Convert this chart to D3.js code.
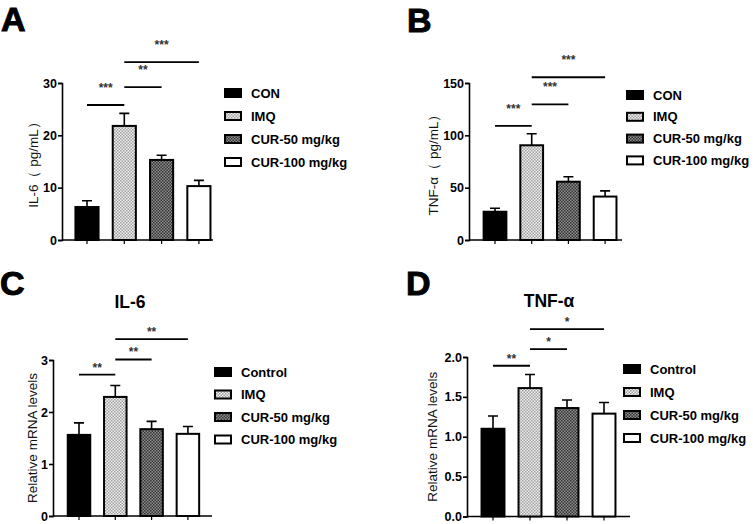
<!DOCTYPE html>
<html>
<head>
<meta charset="utf-8">
<script src="https://cdn.jsdelivr.net/npm/d3@7"></script>
<style>
  body { margin: 0; background: #fff; }
  svg { font-family: "Liberation Sans", Arial, sans-serif; }
</style>
</head>
<body>
<div id="chart"></div>
<script>
// data
const groupsAB = ["CON", "IMQ", "CUR-50 mg/kg", "CUR-100 mg/kg"];
const groupsCD = ["Control", "IMQ", "CUR-50 mg/kg", "CUR-100 mg/kg"];

const il6Protein = [6.3, 21.8, 15.3, 10.3];
const il6ProteinErr = [1.2, 2.4, 0.9, 1.1];
const tnfProtein = [27, 90.5, 55.7, 41.5];
const tnfProteinErr = [3.3, 11, 4.8, 5.4];
const il6Mrna = [1.56, 2.29, 1.67, 1.58];
const il6MrnaErr = [0.23, 0.22, 0.15, 0.14];
const tnfMrna = [1.10, 1.61, 1.36, 1.29];
const tnfMrnaErr = [0.16, 0.17, 0.10, 0.14];

// significance: [from bar, to bar, height (data units), label]
const sigA = [[0, 1, 25.8, "***"], [1, 2, 29.2, "**"], [1, 3, 34.0, "***"]];
const sigB = [[0, 1, 109, "***"], [1, 2, 129.5, "***"], [1, 3, 155.5, "***"]];
const sigC = [[0, 1, 2.72, "**"], [1, 2, 3.01, "**"], [1, 3, 3.40, "**"]];
const sigD = [[0, 1, 1.89, "**"], [1, 2, 2.10, "*"], [1, 3, 2.35, "*"]];

const ticksA = [0, 10, 20, 30];
const ticksB = [0, 50, 100, 150];
const ticksC = [0, 1, 2, 3];
const ticksD = [0, 0.5, 1.0, 1.5, 2.0];

const width = 753;
const height = 524;

const svg = d3.select("#chart").append("svg")
    .attr("width", width)
    .attr("height", height);

// checker patterns for IMQ / CUR-50
const defs = svg.append("defs");
function checker(id, c1, c2) {
    const p = defs.append("pattern")
        .attr("id", id)
        .attr("width", 3).attr("height", 3)
        .attr("patternUnits", "userSpaceOnUse");
    p.append("rect").attr("width", 3).attr("height", 3).attr("fill", c1);
    p.append("rect").attr("width", 1.5).attr("height", 1.5).attr("fill", c2);
    p.append("rect").attr("x", 1.5).attr("y", 1.5).attr("width", 1.5).attr("height", 1.5).attr("fill", c2);
}
checker("patLight", "#f0f0f0", "#a0a0a0");
checker("patDark", "#8e8e8e", "#333");
const fills = ["#000", "url(#patLight)", "url(#patDark)", "#fff"];

function drawPanel(p) {
    const g = svg.append("g");

    // bands centred on the tick positions: first centre c0, spacing step
    const x = d3.scaleBand()
        .domain(d3.range(p.values.length))
        .range([p.c0 - p.step / 2, p.c0 - p.step / 2 + p.step * p.values.length])
        .paddingInner(0.38)
        .paddingOuter(0.19);

    const y = d3.scaleLinear()
        .domain([0, p.ticks[p.ticks.length - 1]])
        .range([p.y0, p.y1]);

    // axes
    const yAxis = g.append("g")
        .attr("transform", `translate(${p.x0},0)`)
        .call(d3.axisLeft(y).tickValues(p.ticks).tickSize(4).tickFormat(p.fmt));
    yAxis.select(".domain").attr("stroke-width", 1.6);
    yAxis.selectAll(".tick line").attr("stroke-width", 1.6);
    yAxis.selectAll("text")
        .attr("font-size", 12.5)
        .attr("font-weight", "bold")
        .attr("fill", "#000")
        .attr("x", -5);

    const xAxis = g.append("g")
        .attr("transform", `translate(0,${p.y0})`)
        .call(d3.axisBottom(x).tickSize(4).tickFormat(""));
    xAxis.select(".domain").attr("d", `M${p.x0},0H${p.axisEnd}`).attr("stroke-width", 1.6);
    xAxis.selectAll(".tick line").attr("stroke-width", 1.2);

    // error bars
    g.selectAll(".err")
        .data(p.values)
        .enter()
        .append("path")
        .attr("fill", "none")
        .attr("stroke", "#000")
        .attr("stroke-width", 1.6)
        .attr("d", function (d, i) {
            const cx = x(i) + x.bandwidth() / 2;
            const top = y(d + p.err[i]);
            return `M${cx},${y(d)}V${top}M${cx - 5},${top}H${cx + 5}`;
        });

    // bars
    g.selectAll(".bar")
        .data(p.values)
        .enter()
        .append("rect")
        .attr("x", function (d, i) { return x(i); })
        .attr("y", function (d) { return y(d); })
        .attr("width", x.bandwidth())
        .attr("height", function (d) { return p.y0 - y(d); })
        .attr("fill", function (d, i) { return fills[i]; })
        .attr("stroke", "#000")
        .attr("stroke-width", 2);

    // significance lines
    p.sig.forEach(function (s) {
        const xa = x(s[0]) + x.bandwidth() / 2;
        const xb = x(s[1]) + x.bandwidth() / 2;
        const yy = y(s[2]);
        g.append("line")
            .attr("x1", xa).attr("x2", xb)
            .attr("y1", yy).attr("y2", yy)
            .attr("stroke", "#000")
            .attr("stroke-width", 1.8);
        g.append("text")
            .attr("x", (xa + xb) / 2)
            .attr("y", yy - p.starGap)
            .attr("text-anchor", "middle")
            .attr("font-size", 12)
            .attr("font-weight", "bold")
            .attr("fill", "#333")
            .text(s[3]);
    });

    // y axis label
    g.append("text")
        .attr("transform", `translate(${p.labelX},${(p.y0 + p.y1) / 2}) rotate(-90)`)
        .attr("text-anchor", "middle")
        .attr("font-size", p.labelSize)
        .attr("fill", "#111")
        .text(p.yLabel);

    // panel letter
    g.append("text")
        .attr("x", p.letterX)
        .attr("y", p.letterY)
        .attr("font-size", 34)
        .attr("font-weight", 900)
        .attr("stroke", "#000")
        .attr("stroke-width", 1)
        .text(p.letter);

    if (p.title) {
        g.append("text")
            .attr("x", p.titleX)
            .attr("y", p.titleY)
            .attr("text-anchor", "middle")
            .attr("font-size", 17.5)
            .attr("font-weight", "bold")
            .text(p.title);
    }

    // legend
    const leg = g.append("g");
    p.groups.forEach(function (name, i) {
        const ly = p.legY + i * p.legStep;
        leg.append("rect")
            .attr("x", p.legX + 1)
            .attr("y", ly - 4)
            .attr("width", 16)
            .attr("height", 8)
            .attr("fill", fills[i])
            .attr("stroke", "#000")
            .attr("stroke-width", 2);
        leg.append("text")
            .attr("x", p.legX + 27)
            .attr("y", ly + 4.5)
            .attr("font-size", 13)
            .attr("font-weight", "bold")
            .text(name);
    });
}

drawPanel({
    values: il6Protein, err: il6ProteinErr, sig: sigA, ticks: ticksA, groups: groupsAB,
    x0: 62, axisEnd: 213, c0: 87, step: 37.3, y0: 240, y1: 83, fmt: d3.format("d"),
    yLabel: "IL-6（ pg/mL）", labelX: 38, labelSize: 13.5, starGap: 13,
    letter: "A", letterX: 1, letterY: 31,
    legX: 224, legY: 93, legStep: 23
});

drawPanel({
    values: tnfProtein, err: tnfProteinErr, sig: sigB, ticks: ticksB, groups: groupsAB,
    x0: 469, axisEnd: 622, c0: 495, step: 36.7, y0: 240, y1: 83, fmt: d3.format("d"),
    yLabel: "TNF-α（ pg/mL）", labelX: 438, labelSize: 13.5, starGap: 13,
    letter: "B", letterX: 407, letterY: 32,
    legX: 626, legY: 95, legStep: 21.8
});

drawPanel({
    values: il6Mrna, err: il6MrnaErr, sig: sigC, ticks: ticksC, groups: groupsCD,
    x0: 53, axisEnd: 212, c0: 79, step: 36.3, y0: 516, y1: 360, fmt: d3.format("d"),
    yLabel: "Relative mRNA levels", labelX: 37, labelSize: 13.5, starGap: 3,
    letter: "C", letterX: 0, letterY: 295,
    title: "IL-6", titleX: 130, titleY: 308,
    legX: 214, legY: 372, legStep: 22.5
});

drawPanel({
    values: tnfMrna, err: tnfMrnaErr, sig: sigD, ticks: ticksD, groups: groupsCD,
    x0: 467, axisEnd: 630, c0: 493, step: 37, y0: 516.5, y1: 357, fmt: d3.format(".1f"),
    yLabel: "Relative mRNA levels", labelX: 437, labelSize: 13.5, starGap: 3,
    letter: "D", letterX: 406, letterY: 295,
    title: "TNF-α", titleX: 549, titleY: 307,
    legX: 623, legY: 369, legStep: 23
});
</script>
</body>
</html>
